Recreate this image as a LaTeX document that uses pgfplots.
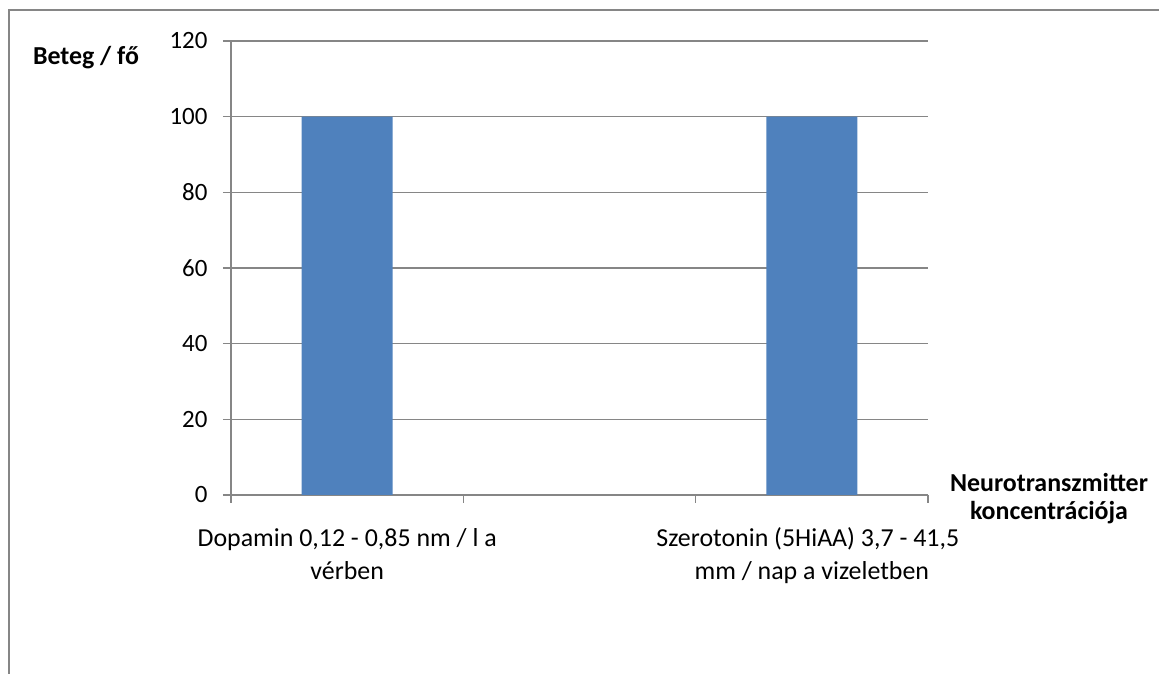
\documentclass[border=0pt]{standalone}
\usepackage{pgfplots}
\pgfplotsset{compat=1.18}
\usepackage{fontspec}
\setmainfont{Carlito}
\definecolor{barblue}{HTML}{4F81BD}
\definecolor{linegray}{HTML}{868686}
\newcommand\lbl{\fontsize{26}{33}\selectfont}
\begin{document}
\begin{tikzpicture}
\useasboundingbox (0,0) rectangle (1159bp,674bp);
% chart frame (top and left edges)
\draw[linegray, line width=2bp] (9bp,0bp) -- (9bp,664bp) -- (1159bp,664bp);
\begin{axis}[
  at={(231bp,179bp)}, anchor=south west,
  scale only axis, width=697bp, height=454bp,
  xmin=-0.5, xmax=2.5, ymin=0, ymax=120,
  ytick={0,20,...,120},
  xtick={-0.5,0.5,1.5,2.5}, xticklabels={},
  axis x line=bottom, axis y line=left,
  axis line style={-, draw=linegray, line width=1.5bp},
  tick align=outside, major tick length=8bp,
  tick style={draw=linegray, line width=1.5bp},
  ymajorgrids, grid style={draw=linegray, line width=1.5bp},
  /pgf/number format/assume math mode=true,
  yticklabel style={font=\fontsize{25}{30}\selectfont, xshift=-12bp},
  ybar, bar width=91bp,
  clip=false,
]
\addplot[fill=barblue, draw=none] coordinates {(0,100) (2,100)};
% category names, one node per wrapped line
\node[font=\lbl, anchor=base] at (axis cs:0,0) [yshift=-51bp] {Dopamin 0,12 - 0,85 nm / l a};
\node[font=\lbl, anchor=base] at (axis cs:0,0) [yshift=-84bp] {vérben};
\node[font=\lbl, anchor=base] at (axis cs:2,0) [xshift=-4bp, yshift=-51bp] {Szerotonin (5HiAA) 3,7 - 41,5};
\node[font=\lbl, anchor=base] at (axis cs:2,0) [yshift=-84bp] {mm / nap a vizeletben};
% axis titles
\node[font=\lbl\bfseries, anchor=base] at (rel axis cs:0,1) [xshift=-145bp, yshift=-24bp] {Beteg / fő};
\node[font=\lbl\bfseries, anchor=base] at (rel axis cs:1,0) [xshift=121bp, yshift=3bp] {Neurotranszmitter};
\node[font=\lbl\bfseries, anchor=base] at (rel axis cs:1,0) [xshift=121bp, yshift=-25bp] {koncentrációja};
\end{axis}
\end{tikzpicture}
\end{document}
